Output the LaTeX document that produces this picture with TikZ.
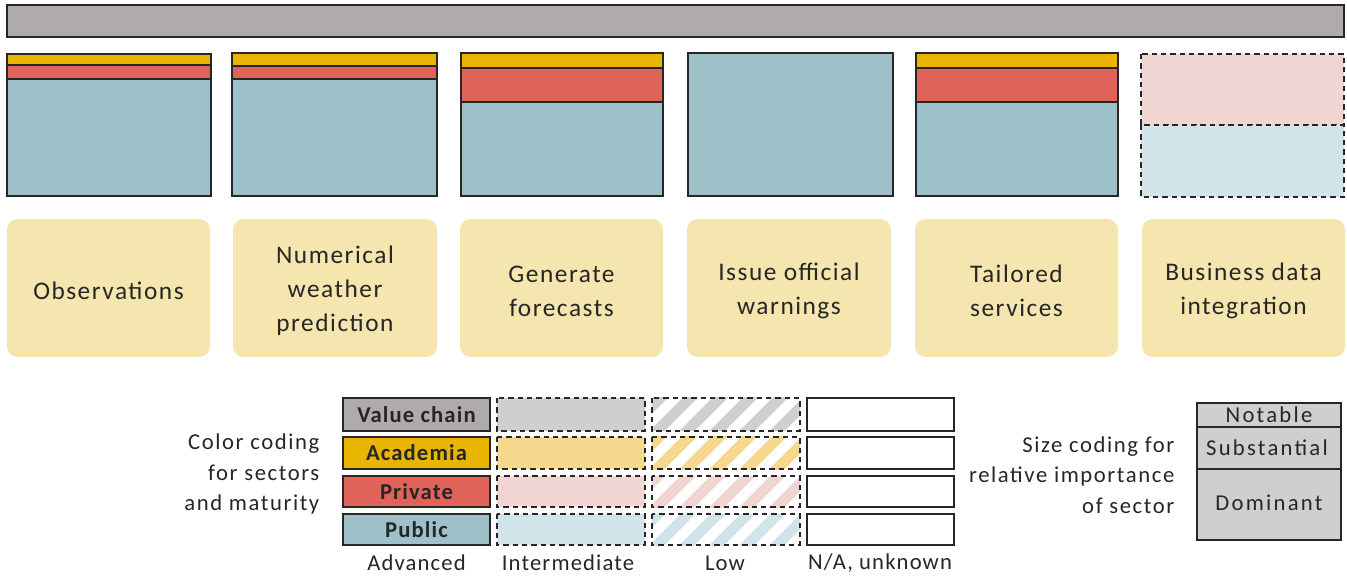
\documentclass[tikz,border=0pt]{standalone}
\usepackage{fontspec}
\setmainfont{Carlito}
\newfontfamily\cardfont[LetterSpace=6]{Carlito}
\newfontfamily\legfont[LetterSpace=5]{Carlito}
\newfontfamily\sidefont[LetterSpace=7]{Carlito}
\newfontfamily\sizefont[LetterSpace=10]{Carlito}
\definecolor{barGray}{HTML}{AFABAB}
\definecolor{acad}{HTML}{E9B500}
\definecolor{priv}{HTML}{DF6359}
\definecolor{publ}{HTML}{9DC0C9}
\definecolor{gray2}{HTML}{D0CECE}
\definecolor{acad2}{HTML}{F5D78E}
\definecolor{priv2}{HTML}{F1D5D2}
\definecolor{publ2}{HTML}{D1E4E9}
\definecolor{card}{HTML}{F5E5AF}
\definecolor{ink}{HTML}{262626}
\tikzset{
  solidbox/.style={draw=ink, line width=1.6pt},
  dashbox/.style={draw=ink, line width=1.2pt, dash pattern=on 4pt off 3pt},
  cardbox/.style={fill=card, rounded corners=8pt},
  cardtext/.style={text=ink, align=center, font=\cardfont\fontsize{19}{25.5}\selectfont},
  legtext/.style={text=ink, font=\legfont\fontsize{17}{22.5}\selectfont},
  legbold/.style={text=ink, font=\legfont\bfseries\fontsize{17}{18}\selectfont},
  sidetext/.style={text=ink, align=right, font=\sidefont\fontsize{17}{23}\selectfont},
  sizetext/.style={text=ink, font=\sizefont\fontsize{17}{23}\selectfont},
}
\newcommand\hatchrow[5]{% x1 y1 x2 y2 colour
  \begin{scope}
    \clip (#1,#2) rectangle (#3,#4);
    \foreach \i in {-2,...,6}
      \draw[#5, line width=8pt] ({#1+\i*30},{#4+5}) -- ++(45,-45);
  \end{scope}
  \path[dashbox] (#1,#2) rectangle (#3,#4);
}
\begin{document}
\begin{tikzpicture}[x=0.75pt, y=-0.75pt]
\useasboundingbox (0,0) rectangle (1347,577);

% value chain bar
\path[fill=barGray, solidbox] (7,5) rectangle (1344,37);

% stacked sector columns
\path[fill=acad, solidbox] (7,54) rectangle (211,65);
\path[fill=priv, solidbox] (7,65) rectangle (211,79);
\path[fill=publ, solidbox] (7,79) rectangle (211,196);

\path[fill=acad, solidbox] (232,53) rectangle (437,66);
\path[fill=priv, solidbox] (232,66) rectangle (437,79);
\path[fill=publ, solidbox] (232,79) rectangle (437,196);

\path[fill=acad, solidbox] (461,53) rectangle (663,68);
\path[fill=priv, solidbox] (461,68) rectangle (663,102);
\path[fill=publ, solidbox] (461,102) rectangle (663,196);

\path[fill=publ, solidbox] (688,53) rectangle (893,196);

\path[fill=acad, solidbox] (916,53) rectangle (1118,68);
\path[fill=priv, solidbox] (916,68) rectangle (1118,102);
\path[fill=publ, solidbox] (916,102) rectangle (1118,196);

\path[fill=priv2, dashbox] (1141,54) rectangle (1344,125);
\path[fill=publ2, dashbox] (1141,125) rectangle (1344,197);

% value chain step cards
\path[cardbox] (7,219) rectangle (210,357);
\path[cardbox] (233,219) rectangle (437,357);
\path[cardbox] (460,219) rectangle (663,357);
\path[cardbox] (687,219) rectangle (891,357);
\path[cardbox] (915,219) rectangle (1118,357);
\path[cardbox] (1142,219) rectangle (1345,357);
\node[cardtext] (c1) at (108.5,291) {Observations};
\node[cardtext] (c2) at (335,291) {Numerical\\weather\\prediction};
\node[cardtext] (c3) at (561.5,291) {Generate\\forecasts};
\node[cardtext] (c4) at (789,291) {Issue official\\warnings};
\node[cardtext] (c5) at (1016.5,291) {Tailored\\services};
\node[cardtext] (c6) at (1243.5,291) {Business data\\integration};

% colour legend: advanced
\path[fill=barGray, solidbox] (343,398) rectangle (490,431);
\path[fill=acad, solidbox] (343,437) rectangle (490,469);
\path[fill=priv, solidbox] (343,476) rectangle (490,507);
\path[fill=publ, solidbox] (343,514) rectangle (490,545);
\node[legbold] (l1) at (416.5,414.5) {Value chain};
\node[legbold] (l2) at (416.5,453) {Academia};
\node[legbold] (l3) at (416.5,491.5) {Private};
\node[legbold] (l4) at (416.5,529.5) {Public};

% intermediate
\path[fill=gray2, dashbox] (497,398) rectangle (645,431);
\path[fill=acad2, dashbox] (497,437) rectangle (645,469);
\path[fill=priv2, dashbox] (497,476) rectangle (645,507);
\path[fill=publ2, dashbox] (497,514) rectangle (645,545);

% low
\hatchrow{652}{398}{800}{431}{gray2}
\hatchrow{652}{437}{800}{469}{acad2}
\hatchrow{652}{476}{800}{507}{priv2}
\hatchrow{652}{514}{800}{545}{publ2}

% n/a
\path[fill=white, solidbox] (807,398) rectangle (954,431);
\path[fill=white, solidbox] (807,437) rectangle (954,469);
\path[fill=white, solidbox] (807,476) rectangle (954,507);
\path[fill=white, solidbox] (807,514) rectangle (954,545);

\node[legtext] (m1) at (416.5,563) {Advanced};
\node[legtext] (m2) at (568,563) {Intermediate};
\node[legtext] (m3) at (725,563) {Low};
\node[legtext] (m4) at (880,563) {N/A, unknown};

\node[sidetext, anchor=east] (cc) at (324,474) {Color coding\\for sectors\\and maturity};

% size legend
\path[fill=gray2, solidbox] (1197,403) rectangle (1341,427);
\path[fill=gray2, solidbox] (1197,427) rectangle (1341,469);
\path[fill=gray2, solidbox] (1197,469) rectangle (1341,540);
\node[sizetext] (s1) at (1269,415) {Notable};
\node[sizetext] (s2) at (1267,448) {Substantial};
\node[sizetext] (s3) at (1269,503) {Dominant};
\node[sidetext, anchor=east] (sc) at (1179,475) {Size coding for\\relative importance\\of sector};
\end{tikzpicture}
\end{document}
